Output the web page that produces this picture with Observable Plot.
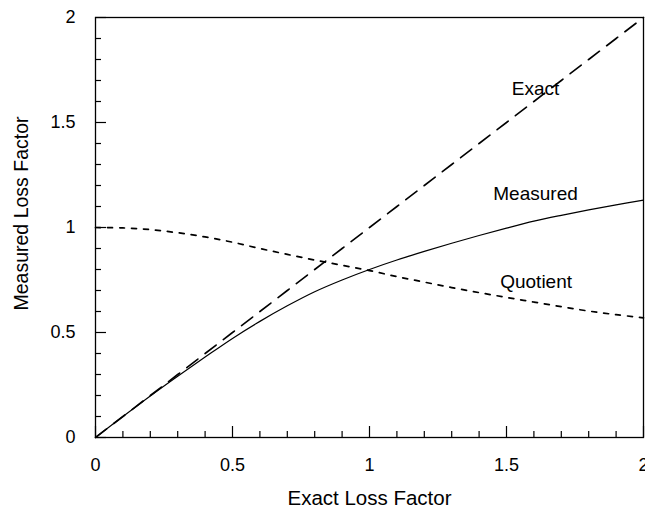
<!DOCTYPE html>
<html>
<head>
<meta charset="utf-8">
<script src="https://cdn.jsdelivr.net/npm/d3@7"></script>
<script src="https://cdn.jsdelivr.net/npm/@observablehq/plot@0.6"></script>
<style>
  html, body { margin: 0; padding: 0; background: #fff; }
  svg { display: block; }
</style>
</head>
<body>
<div id="chart"></div>
<script>
const xValues = [0, 0.1, 0.2, 0.3, 0.4, 0.5, 0.6, 0.7, 0.8, 0.9, 1.0, 1.1, 1.2, 1.3, 1.4, 1.5, 1.6, 1.7, 1.8, 1.9, 2.0];
const exactValues = [0, 0.1, 0.2, 0.3, 0.4, 0.5, 0.6, 0.7, 0.8, 0.9, 1.0, 1.1, 1.2, 1.3, 1.4, 1.5, 1.6, 1.7, 1.8, 1.9, 2.0];
const measuredValues = [0, 0.1, 0.198, 0.292, 0.383, 0.472, 0.553, 0.627, 0.694, 0.75, 0.8, 0.845, 0.886, 0.925, 0.962, 0.997, 1.03, 1.058, 1.084, 1.108, 1.13];
const quotientValues = [1.0, 0.998, 0.99, 0.975, 0.955, 0.93, 0.9, 0.872, 0.845, 0.82, 0.795, 0.766, 0.74, 0.714, 0.69, 0.667, 0.645, 0.623, 0.602, 0.585, 0.57];
const curveLabels = ["Exact", "Measured", "Quotient"];
const labelX = [1.606, 1.606, 1.608];
const labelY = [1.662, 1.162, 0.743];
const majorTicks = [0, 0.5, 1, 1.5, 2];
const minorTicks = d3.range(0, 21).map(i => i / 10).filter(v => Math.round(v * 10) % 5 !== 0);
const xTitle = "Exact Loss Factor";
const yTitle = "Measured Loss Factor";

const rows = xValues.map((x, i) => ({x, exact: exactValues[i], measured: measuredValues[i], quotient: quotientValues[i]}));
const labels = curveLabels.map((t, i) => ({t, x: labelX[i], y: labelY[i]}));

const font = "Liberation Sans, Arial, sans-serif";

const chart = Plot.plot({
  width: 645,
  height: 510,
  marginLeft: 95,
  marginRight: 2,
  marginTop: 17,
  marginBottom: 73,
  style: {fontFamily: font, background: "#fff", color: "#000"},
  x: {domain: [0, 2]},
  y: {domain: [0, 2]},
  marks: [
    Plot.line(rows, {x: "x", y: "exact", stroke: "#000", strokeWidth: 1.6, strokeDasharray: "14,9"}),
    Plot.line(rows, {x: "x", y: "measured", stroke: "#000", strokeWidth: 1.2, curve: "catmull-rom"}),
    Plot.line(rows, {x: "x", y: "quotient", stroke: "#000", strokeWidth: 1.7, strokeDasharray: "5,7", curve: "catmull-rom"}),
    Plot.frame({stroke: "#000", strokeWidth: 1.3}),
    // inward ticks
    Plot.axisX(majorTicks, {tickSize: -11, fill: "none", label: null, stroke: "#000", strokeWidth: 1.2}),
    Plot.axisX(minorTicks, {tickSize: -6, fill: "none", label: null, stroke: "#000", strokeWidth: 1.2}),
    Plot.axisY(majorTicks, {tickSize: -11, fill: "none", label: null, stroke: "#000", strokeWidth: 1.2}),
    Plot.axisY(minorTicks, {tickSize: -6, fill: "none", label: null, stroke: "#000", strokeWidth: 1.2}),
    // tick labels
    Plot.axisX(majorTicks, {tickSize: 0, tickPadding: 21, label: null, fontSize: 18, tickFormat: d => String(d)}),
    Plot.axisY(majorTicks, {tickSize: 0, tickPadding: 20, label: null, fontSize: 18, tickFormat: d => String(d)}),
    // axis titles
    Plot.text([xTitle], {frameAnchor: "bottom", dy: 67, fontSize: 20.5, fill: "#000", textAnchor: "middle"}),
    Plot.text([yTitle], {frameAnchor: "left", dx: -74, dy: -14, rotate: -90, fontSize: 19.5, fill: "#000", textAnchor: "middle"}),
    // curve labels
    Plot.text(labels, {x: "x", y: "y", text: "t", fontSize: 19, fill: "#000"})
  ]
});
document.getElementById("chart").appendChild(chart);
</script>
</body>
</html>
